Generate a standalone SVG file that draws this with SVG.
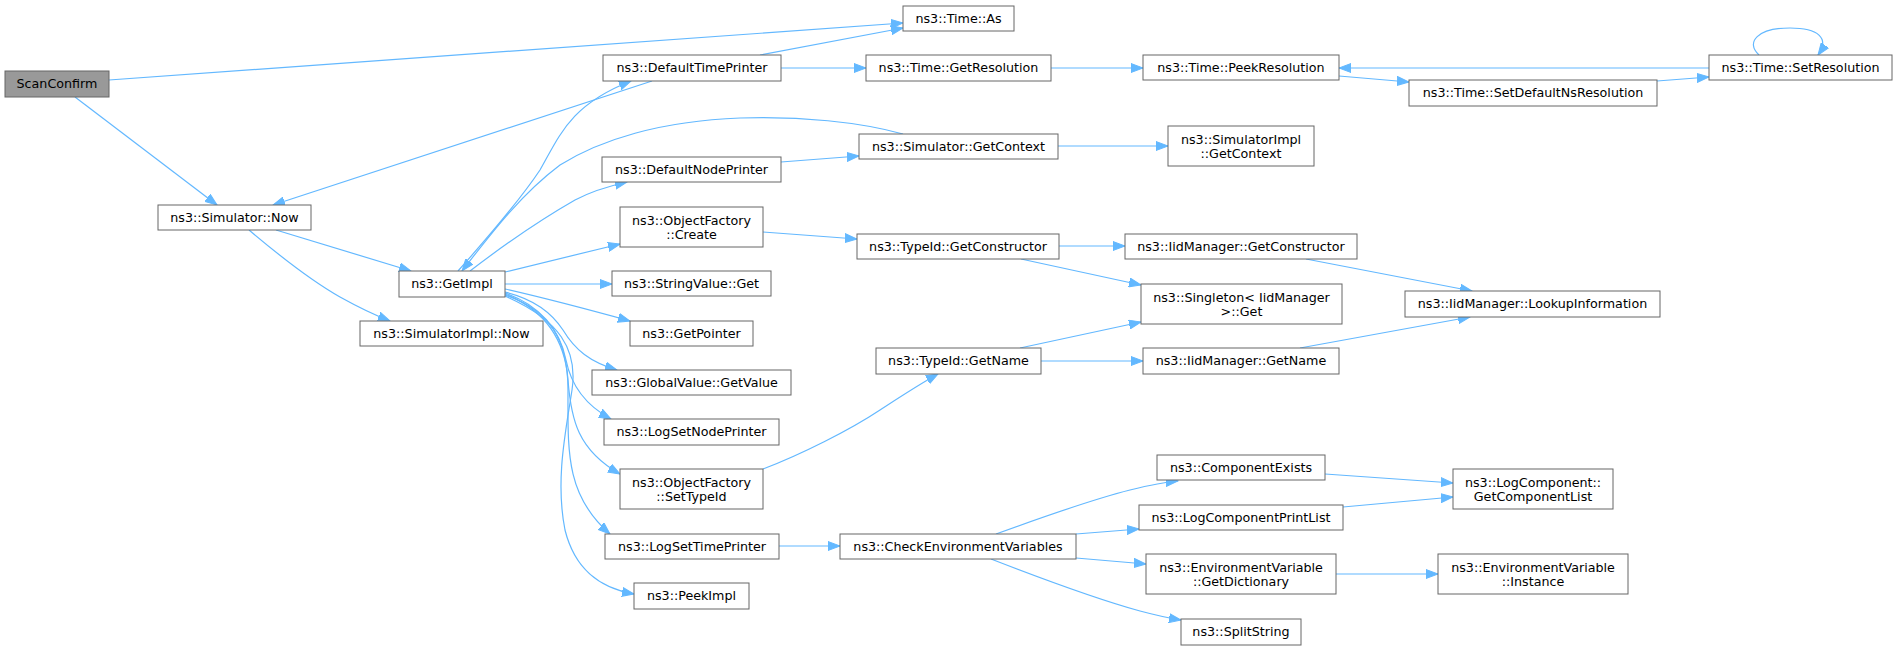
<svg xmlns="http://www.w3.org/2000/svg" width="1899" height="649" viewBox="0 0 1899 649">
<style>
.n rect{fill:#ffffff;stroke:#666666;stroke-width:1}
.n.root rect{fill:#999999}
.n text{font-family:"DejaVu Sans","Liberation Sans",sans-serif;font-size:12.7px;fill:#000000;text-anchor:middle}
.e path{fill:none;stroke:#63b8ff;stroke-width:1.2;marker-end:url(#ah)}
</style>
<defs>
<marker id="ah" markerWidth="13" markerHeight="10" refX="12" refY="5" orient="auto" markerUnits="userSpaceOnUse">
<path d="M0,0.5 L12,5 L0,9.5 z" fill="#63b8ff" stroke="#63b8ff" stroke-width="1"/>
</marker>
</defs>
<rect width="1899" height="649" fill="#ffffff"/>
<g id="edges" class="e">
<path d="M109,80 L903,23"/>
<path d="M75,97 L217,205"/>
<path d="M652,81 L273,205"/>
<path d="M276,230 L411,271"/>
<path d="M249,230 C275,252 310,280 340,297 C358,307 372,314 390,321"/>
<path d="M760,55 L903,28"/>
<path d="M781,68 L866,68"/>
<path d="M1051,68 L1143,68"/>
<path d="M1339,76 L1409,82"/>
<path d="M1657,81 L1709,77"/>
<path d="M1709,68 L1339,68"/>
<path d="M1759,55 C1745,42 1758,28 1790,28 C1818,28 1830,38 1818,55"/>
<path d="M458,271 C490,235 520,200 540,170 C560,135 570,105 631,81"/>
<path d="M903,134 C860,122 800,116 740,118 C660,121 600,140 560,165 C520,195 490,235 462,271"/>
<path d="M470,271 C500,248 540,220 575,200 C590,192 605,187 627,182"/>
<path d="M505,272 L620,244"/>
<path d="M505,284 L612,284"/>
<path d="M505,289 C540,297 590,310 630,321"/>
<path d="M505,292 C530,298 550,310 563,330 C575,350 590,362 617,370"/>
<path d="M505,293 C540,305 560,330 566,360 C571,385 585,405 611,419"/>
<path d="M505,294 C545,310 565,340 568,380 C571,420 578,450 620,474"/>
<path d="M505,295 C550,310 568,340 568,390 C568,450 565,495 610,534"/>
<path d="M505,296 C560,320 578,350 572,390 C566,430 555,480 565,530 C575,570 600,588 634,594"/>
<path d="M781,162 L859,156"/>
<path d="M1058,146 L1168,146"/>
<path d="M763,232 L857,239"/>
<path d="M1059,246 L1125,246"/>
<path d="M1021,259 L1141,285"/>
<path d="M1020,348 L1141,322"/>
<path d="M1041,361 L1143,361"/>
<path d="M1306,259 L1472,291"/>
<path d="M1300,348 L1470,317"/>
<path d="M763,469 C800,455 850,430 880,410 C900,397 918,385 938,374"/>
<path d="M779,546 L840,546"/>
<path d="M996,534 C1040,518 1090,500 1130,490 C1150,485 1165,482 1178,481"/>
<path d="M1076,534 L1139,529"/>
<path d="M1076,558 L1146,564"/>
<path d="M991,559 C1040,578 1100,600 1140,611 C1155,615 1168,618 1181,620"/>
<path d="M1325,474 L1453,483"/>
<path d="M1343,507 L1453,497"/>
<path d="M1336,574 L1438,574"/>
</g>
<g id="node_ScanConfirm" class="n root"><rect x="5" y="71" width="104" height="26"/><text x="57" y="88">ScanConfirm</text></g>
<g id="node_SimulatorNow" class="n"><rect x="158" y="205" width="153" height="25"/><text x="234.5" y="222">ns3::Simulator::Now</text></g>
<g id="node_GetImpl" class="n"><rect x="399" y="271" width="106" height="26"/><text x="452" y="288">ns3::GetImpl</text></g>
<g id="node_SimulatorImplNow" class="n"><rect x="360" y="321" width="183" height="25"/><text x="451.5" y="338">ns3::SimulatorImpl::Now</text></g>
<g id="node_DefaultTimePrinter" class="n"><rect x="603" y="55" width="178" height="26"/><text x="692" y="72">ns3::DefaultTimePrinter</text></g>
<g id="node_DefaultNodePrinter" class="n"><rect x="602" y="157" width="179" height="25"/><text x="691.5" y="174">ns3::DefaultNodePrinter</text></g>
<g id="node_ObjectFactoryCreate" class="n"><rect x="620" y="207" width="143" height="40"/><text x="691.5" y="224.5">ns3::ObjectFactory</text><text x="691.5" y="238.5">::Create</text></g>
<g id="node_StringValueGet" class="n"><rect x="612" y="271" width="159" height="25"/><text x="691.5" y="288">ns3::StringValue::Get</text></g>
<g id="node_GetPointer" class="n"><rect x="630" y="321" width="123" height="25"/><text x="691.5" y="338">ns3::GetPointer</text></g>
<g id="node_GlobalValueGetValue" class="n"><rect x="592" y="370" width="199" height="25"/><text x="691.5" y="387">ns3::GlobalValue::GetValue</text></g>
<g id="node_LogSetNodePrinter" class="n"><rect x="604" y="419" width="175" height="26"/><text x="691.5" y="436">ns3::LogSetNodePrinter</text></g>
<g id="node_ObjectFactorySetTypeId" class="n"><rect x="620" y="469" width="143" height="40"/><text x="691.5" y="486.5">ns3::ObjectFactory</text><text x="691.5" y="500.5">::SetTypeId</text></g>
<g id="node_LogSetTimePrinter" class="n"><rect x="605" y="534" width="174" height="25"/><text x="692" y="551">ns3::LogSetTimePrinter</text></g>
<g id="node_PeekImpl" class="n"><rect x="634" y="583" width="115" height="26"/><text x="691.5" y="600">ns3::PeekImpl</text></g>
<g id="node_TimeAs" class="n"><rect x="903" y="6" width="111" height="25"/><text x="958.5" y="23">ns3::Time::As</text></g>
<g id="node_TimeGetResolution" class="n"><rect x="866" y="55" width="185" height="26"/><text x="958.5" y="72">ns3::Time::GetResolution</text></g>
<g id="node_SimulatorGetContext" class="n"><rect x="859" y="134" width="199" height="25"/><text x="958.5" y="151">ns3::Simulator::GetContext</text></g>
<g id="node_TypeIdGetConstructor" class="n"><rect x="857" y="234" width="202" height="25"/><text x="958" y="251">ns3::TypeId::GetConstructor</text></g>
<g id="node_TypeIdGetName" class="n"><rect x="876" y="348" width="165" height="26"/><text x="958.5" y="365">ns3::TypeId::GetName</text></g>
<g id="node_CheckEnvironmentVariables" class="n"><rect x="840" y="534" width="236" height="25"/><text x="958" y="551">ns3::CheckEnvironmentVariables</text></g>
<g id="node_TimePeekResolution" class="n"><rect x="1143" y="55" width="196" height="25"/><text x="1241" y="72">ns3::Time::PeekResolution</text></g>
<g id="node_SimulatorImplGetContext" class="n"><rect x="1168" y="126" width="146" height="40"/><text x="1241" y="143.5">ns3::SimulatorImpl</text><text x="1241" y="157.5">::GetContext</text></g>
<g id="node_IidManagerGetConstructor" class="n"><rect x="1125" y="234" width="232" height="25"/><text x="1241" y="251">ns3::IidManager::GetConstructor</text></g>
<g id="node_SingletonGet" class="n"><rect x="1141" y="284" width="201" height="40"/><text x="1241.5" y="301.5">ns3::Singleton&lt; IidManager</text><text x="1241.5" y="315.5">&gt;::Get</text></g>
<g id="node_IidManagerGetName" class="n"><rect x="1143" y="348" width="196" height="26"/><text x="1241" y="365">ns3::IidManager::GetName</text></g>
<g id="node_ComponentExists" class="n"><rect x="1157" y="455" width="168" height="25"/><text x="1241" y="472">ns3::ComponentExists</text></g>
<g id="node_LogComponentPrintList" class="n"><rect x="1139" y="505" width="204" height="25"/><text x="1241" y="522">ns3::LogComponentPrintList</text></g>
<g id="node_EnvGetDictionary" class="n"><rect x="1146" y="554" width="190" height="40"/><text x="1241" y="571.5">ns3::EnvironmentVariable</text><text x="1241" y="585.5">::GetDictionary</text></g>
<g id="node_SplitString" class="n"><rect x="1181" y="619" width="120" height="26"/><text x="1241" y="636">ns3::SplitString</text></g>
<g id="node_TimeSetDefaultNsResolution" class="n"><rect x="1409" y="80" width="248" height="26"/><text x="1533" y="97">ns3::Time::SetDefaultNsResolution</text></g>
<g id="node_IidManagerLookupInformation" class="n"><rect x="1405" y="291" width="255" height="26"/><text x="1532.5" y="308">ns3::IidManager::LookupInformation</text></g>
<g id="node_LogComponentGetComponentList" class="n"><rect x="1453" y="469" width="160" height="40"/><text x="1533" y="486.5">ns3::LogComponent::</text><text x="1533" y="500.5">GetComponentList</text></g>
<g id="node_EnvInstance" class="n"><rect x="1438" y="554" width="190" height="40"/><text x="1533" y="571.5">ns3::EnvironmentVariable</text><text x="1533" y="585.5">::Instance</text></g>
<g id="node_TimeSetResolution" class="n"><rect x="1709" y="55" width="183" height="25"/><text x="1800.5" y="72">ns3::Time::SetResolution</text></g>
</svg>
